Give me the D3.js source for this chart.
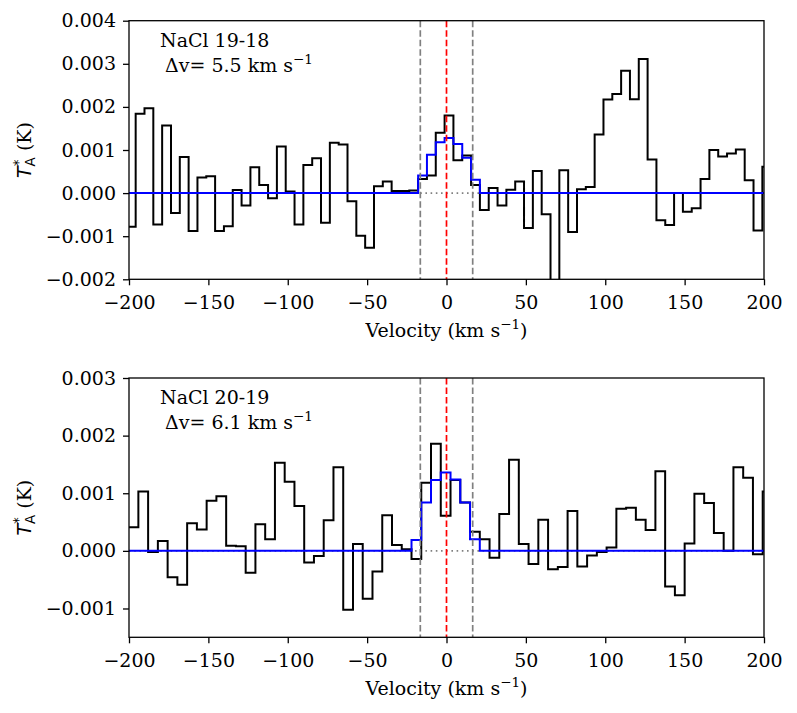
<!DOCTYPE html>
<html>
<head>
<meta charset="utf-8">
<script src="https://cdn.jsdelivr.net/npm/d3@7"></script>
<style>
body { margin: 0; background: #fff; }
text { font-family: "DejaVu Serif", serif; }
</style>
</head>
<body>
<script>
// channel centres (km/s) and antenna temperature (K), NaCl 19-18
var topVel = [-198.58, -193.02, -187.46, -181.90, -176.34, -170.78, -165.22, -159.66, -154.10, -148.54,
  -142.98, -137.42, -131.86, -126.30, -120.74, -115.18, -109.62, -104.06, -98.50, -92.94,
  -87.38, -81.82, -76.26, -70.70, -65.14, -59.58, -54.02, -48.46, -42.90, -37.34,
  -31.78, -26.22, -20.66, -15.10, -9.54, -3.98, 1.58, 7.14, 12.70, 18.26,
  23.82, 29.38, 34.94, 40.50, 46.06, 51.62, 57.18, 62.74, 68.30, 73.86,
  79.42, 84.98, 90.54, 96.10, 101.66, 107.22, 112.78, 118.34, 123.90, 129.46,
  135.02, 140.58, 146.14, 151.70, 157.26, 162.82, 168.38, 173.94, 179.50, 185.06,
  190.62, 196.18, 201.74];
var topTa = [-0.00078, 0.00184, 0.00197, -0.00073, 0.00157, -0.00046, 0.00084, -0.00088, 0.00036, 0.00039,
  -0.00088, -0.00077, 0.00007, -0.00029, 0.00060, 0.00019, -0.00012, 0.00108, 0.00004, -0.00073,
  0.00065, 0.00081, -0.00069, 0.00117, 0.00113, -0.00019, -0.00099, -0.00127, 0.00016, 0.00027,
  0.00005, 0.00005, 0.00006, 0.00033, 0.00041, 0.00140, 0.00180, 0.00076, 0.00087, 0.00019,
  -0.00039, 0.00012, -0.00029, 0.00008, 0.00027, -0.00081, 0.00051, -0.00049, -0.00250, 0.00053,
  -0.00090, 0.00009, 0.00014, 0.00136, 0.00217, 0.00230, 0.00284, 0.00218, 0.00311, 0.00078,
  -0.00063, -0.00074, 0.00000, -0.00043, -0.00035, 0.00033, 0.00100, 0.00085, 0.00092, 0.00101,
  0.00030, -0.00087, 0.00061];
var topModel = [0, 0, 0, 0, 0, 0, 0, 0, 0, 0,
  0, 0, 0, 0, 0, 0, 0, 0, 0, 0,
  0, 0, 0, 0, 0, 0, 0, 0, 0, 0,
  0, 0, 0, 0.00041, 0.00089, 0.00118, 0.00128, 0.00114, 0.00082, 0.00031,
  0, 0, 0, 0, 0, 0, 0, 0, 0, 0,
  0, 0, 0, 0, 0, 0, 0, 0, 0, 0,
  0, 0, 0, 0, 0, 0, 0, 0, 0, 0,
  0, 0, 0];

// NaCl 20-19
var botVel = [-197.17, -191.03, -184.88, -178.74, -172.59, -166.45, -160.30, -154.16, -148.01, -141.87,
  -135.72, -129.58, -123.43, -117.29, -111.14, -105.00, -98.85, -92.71, -86.56, -80.42,
  -74.27, -68.13, -61.98, -55.84, -49.69, -43.55, -37.40, -31.26, -25.11, -18.97,
  -12.82, -6.68, -0.53, 5.61, 11.76, 17.90, 24.05, 30.19, 36.34, 42.48,
  48.63, 54.77, 60.92, 67.06, 73.21, 79.35, 85.50, 91.64, 97.79, 103.93,
  110.08, 116.22, 122.37, 128.51, 134.66, 140.80, 146.95, 153.09, 159.24, 165.38,
  171.53, 177.67, 183.82, 189.96, 196.11, 202.25];
var botTa = [0.00041, 0.00103, -0.00002, 0.00017, -0.00046, -0.00059, 0.00048, 0.00037, 0.00087, 0.00095,
  0.00009, 0.00008, -0.00038, 0.00046, 0.00020, 0.00153, 0.00120, 0.00078, -0.00020, -0.00009,
  0.00053, 0.00145, -0.00102, 0.00012, -0.00083, -0.00036, 0.00062, 0.00010, 0.00003, -0.00014,
  0.00118, 0.00186, 0.00061, 0.00123, 0.00084, 0.00033, 0.00020, -0.00012, 0.00064, 0.00158,
  0.00012, -0.00023, 0.00054, -0.00032, -0.00028, 0.00069, -0.00027, -0.00008, -0.00002, 0.00006,
  0.00073, 0.00075, 0.00054, 0.00036, 0.00138, -0.00062, -0.00077, 0.00013, 0.00099, 0.00083,
  0.00031, 0.00000, 0.00145, 0.00127, -0.00006, 0.00103];
var botModel = [0, 0, 0, 0, 0, 0, 0, 0, 0, 0,
  0, 0, 0, 0, 0, 0, 0, 0, 0, 0,
  0, 0, 0, 0, 0, 0, 0, 0, 0, 0.00019,
  0.00084, 0.00123, 0.00136, 0.00124, 0.00084, 0.00020, 0, 0, 0, 0,
  0, 0, 0, 0, 0, 0, 0, 0, 0, 0,
  0, 0, 0, 0, 0, 0, 0, 0, 0, 0,
  0, 0, 0, 0, 0, 0];

var xTicks = [-200, -150, -100, -50, 0, 50, 100, 150, 200];
var topYTicks = [-0.002, -0.001, 0, 0.001, 0.002, 0.003, 0.004];
var botYTicks = [-0.001, 0, 0.001, 0.002, 0.003];
var fitWindow = [-16.5, 16.5];

var w = 797;
var h = 713;
var left = 129, right = 764;
var fs = 19, fsSmall = 13.5;

var panels = [
  { vel: topVel, ta: topTa, model: topModel, dv: 5.56, yDomain: [-0.002, 0.004], yTicks: topYTicks,
    top: 20.7, bottom: 279.3, name: "NaCl 19-18", dvText: "5.5" },
  { vel: botVel, ta: botTa, model: botModel, dv: 6.145, yDomain: [-0.0015, 0.003], yTicks: botYTicks,
    top: 378, bottom: 637.3, name: "NaCl 20-19", dvText: "6.1" }
];

var svg = d3.select("body")
    .append("svg")
    .attr("width", w)
    .attr("height", h);

var xScale = d3.scaleLinear().domain([-200, 200]).range([left, right]);

panels.forEach(function(p, pi) {
  var yScale = d3.scaleLinear().domain(p.yDomain).range([p.bottom, p.top]);

  var clipId = "clip" + pi;
  svg.append("clipPath")
      .attr("id", clipId)
    .append("rect")
      .attr("x", left)
      .attr("y", p.top)
      .attr("width", right - left)
      .attr("height", p.bottom - p.top);

  // each channel drawn as a flat step across its width
  function steps(values) {
    var pts = [];
    p.vel.forEach(function(v, i) {
      pts.push([v - p.dv / 2, values[i]]);
      pts.push([v + p.dv / 2, values[i]]);
    });
    return pts;
  }

  var line = d3.line()
      .x(function(d) { return xScale(d[0]); })
      .y(function(d) { return yScale(d[1]); });

  var plot = svg.append("g").attr("clip-path", "url(#" + clipId + ")");

  plot.append("line")
      .attr("x1", left)
      .attr("x2", right)
      .attr("y1", yScale(0))
      .attr("y2", yScale(0))
      .attr("stroke", "#808080")
      .attr("stroke-width", 1.6)
      .attr("stroke-dasharray", "1.6,3.6");

  plot.append("path")
      .datum(steps(p.ta))
      .attr("fill", "none")
      .attr("stroke", "#000")
      .attr("stroke-width", 2)
      .attr("d", line);

  plot.append("path")
      .datum(steps(p.model))
      .attr("fill", "none")
      .attr("stroke", "#0000ff")
      .attr("stroke-width", 2)
      .attr("d", line);

  fitWindow.forEach(function(v) {
    plot.append("line")
        .attr("x1", xScale(v))
        .attr("x2", xScale(v))
        .attr("y1", p.top)
        .attr("y2", p.bottom)
        .attr("stroke", "#808080")
        .attr("stroke-width", 1.7)
        .attr("stroke-dasharray", "6.5,3");
  });

  plot.append("line")
      .attr("x1", xScale(0))
      .attr("x2", xScale(0))
      .attr("y1", p.top)
      .attr("y2", p.bottom)
      .attr("stroke", "#ff0000")
      .attr("stroke-width", 1.7)
      .attr("stroke-dasharray", "6.5,3");

  // axes
  var xAxis = d3.axisBottom(xScale)
      .tickValues(xTicks)
      .tickSize(6)
      .tickPadding(10)
      .tickFormat(d3.format("d"));

  var yAxis = d3.axisLeft(yScale)
      .tickValues(p.yTicks)
      .tickSize(6)
      .tickPadding(7)
      .tickFormat(d3.format(".3f"));

  var gx = svg.append("g")
      .attr("transform", "translate(0," + p.bottom + ")")
      .call(xAxis);
  var gy = svg.append("g")
      .attr("transform", "translate(" + left + ",0)")
      .call(yAxis);

  [gx, gy].forEach(function(g) {
    g.attr("font-family", null).attr("font-size", null);
    g.select(".domain").remove();
    g.selectAll("line").attr("stroke", "#000").attr("stroke-width", 1.3);
    g.selectAll("text")
        .attr("fill", "#000")
        .style("font-family", "'DejaVu Serif', serif")
        .style("font-size", fs + "px");
  });

  svg.append("rect")
      .attr("x", left)
      .attr("y", p.top)
      .attr("width", right - left)
      .attr("height", p.bottom - p.top)
      .attr("fill", "none")
      .attr("stroke", "#000")
      .attr("stroke-width", 1.3);

  // x label
  var xl = svg.append("text")
      .attr("x", (left + right) / 2)
      .attr("y", p.bottom + 57.4)
      .attr("text-anchor", "middle")
      .style("font-size", fs + "px");
  xl.append("tspan").text("Velocity (km s");
  xl.append("tspan").attr("dy", -8).style("font-size", fsSmall + "px").text("\u22121");
  xl.append("tspan").attr("dy", 8).text(")");

  // y label
  var cy = (p.top + p.bottom) / 2;
  var yl = svg.append("text")
      .attr("transform", "translate(31," + cy + ") rotate(-90)")
      .attr("text-anchor", "middle")
      .style("font-size", fs + "px");
  yl.append("tspan").style("font-family", "'DejaVu Sans', sans-serif").style("font-style", "italic").text("T");
  yl.append("tspan").style("font-family", "'DejaVu Sans', sans-serif").style("font-size", fsSmall + "px")
      .attr("dy", -8).text("*");
  yl.append("tspan").style("font-family", "'DejaVu Sans', sans-serif").style("font-size", fsSmall + "px")
      .attr("dx", -6.8).attr("dy", 12).text("A");
  yl.append("tspan").attr("dy", -4).text(" (K)");

  // line name and channel width
  svg.append("text")
      .attr("x", 160)
      .attr("y", p.top + 26)
      .style("font-size", fs + "px")
      .text(p.name);

  var dl = svg.append("text")
      .attr("x", 165)
      .attr("y", p.top + 51)
      .style("font-size", fs + "px");
  dl.append("tspan").text("\u0394v= " + p.dvText + " km s");
  dl.append("tspan").attr("dy", -8).style("font-size", fsSmall + "px").text("\u22121");
});
</script>
</body>
</html>
